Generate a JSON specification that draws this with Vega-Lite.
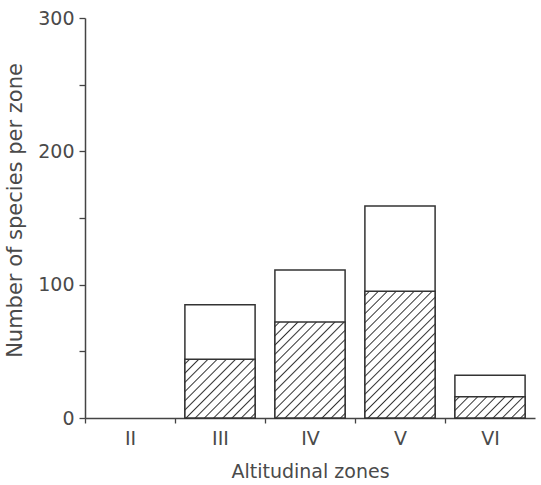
{
  "$schema": "https://vega.github.io/schema/vega-lite/v6.json",
  "autosize": {"type": "none"},
  "width": 450,
  "height": 400,
  "padding": {"left": 85, "top": 18, "right": 6, "bottom": 67},
  "background": "#ffffff",
  "data": {
    "values": [
      {"zone": "III", "total": 85, "hatched": 44},
      {"zone": "IV", "total": 111, "hatched": 72},
      {"zone": "V", "total": 159, "hatched": 95},
      {"zone": "VI", "total": 32, "hatched": 16}
    ]
  },
  "config": {
    "view": {"stroke": null},
    "axis": {
      "domainColor": "#444", "domainWidth": 1.5, "tickColor": "#444", "tickWidth": 1.3,
      "labelFont": "DejaVu Sans", "labelFontSize": 19, "labelColor": "#4a4a4a",
      "titleFont": "DejaVu Sans", "titleFontWeight": "normal", "titleColor": "#4a4a4a", "grid": false
    }
  },
  "encoding": {
    "x": {
      "field": "zone", "type": "nominal", "sort": ["II", "III", "IV", "V", "VI"],
      "scale": {"domain": ["II", "III", "IV", "V", "VI"], "paddingInner": 0.22, "paddingOuter": 0.11},
      "axis": {"title": "Altitudinal zones", "titleFontSize": 19, "titlePadding": 14, "labelAngle": 0, "bandPosition": 0, "tickOffset": -10, "labelOffset": 10, "tickSize": 5, "labelPadding": 6}
    }
  },
  "layer": [
    {
      "mark": {"type": "bar", "fill": "#ffffff", "stroke": "#333", "strokeWidth": 1.5},
      "encoding": {
        "y": {
          "field": "total", "type": "quantitative", "scale": {"domain": [0, 300]},
          "axis": {"title": "Number of species per zone", "titleFontSize": 21, "titleX": -60, "titleY": 192, "values": [0, 50, 100, 150, 200, 250, 300], "labelExpr": "datum.value % 100 === 0 ? datum.label : ''", "tickSize": 6, "labelPadding": 5}
        }
      }
    },
    {
      "mark": {"type": "bar", "stroke": "#333", "strokeWidth": 1.5},
      "encoding": {
        "y": {"field": "hatched", "type": "quantitative", "title": "Number of species per zone"},
        "fill": {
          "condition": [
            {"test": "datum.zone === 'III'", "value": {"gradient": "linear", "x1": 0, "y1": 0, "x2": 1.0806, "y2": 0.9036, "stops": [
              {"offset": 0.0247, "color": "#fff"}, {"offset": 0.0357, "color": "#333"}, {"offset": 0.0467, "color": "#fff"},
              {"offset": 0.0961, "color": "#fff"}, {"offset": 0.1071, "color": "#333"}, {"offset": 0.1181, "color": "#fff"},
              {"offset": 0.1676, "color": "#fff"}, {"offset": 0.1786, "color": "#333"}, {"offset": 0.1896, "color": "#fff"},
              {"offset": 0.239, "color": "#fff"}, {"offset": 0.25, "color": "#333"}, {"offset": 0.261, "color": "#fff"},
              {"offset": 0.3104, "color": "#fff"}, {"offset": 0.3214, "color": "#333"}, {"offset": 0.3324, "color": "#fff"},
              {"offset": 0.3819, "color": "#fff"}, {"offset": 0.3929, "color": "#333"}, {"offset": 0.4039, "color": "#fff"},
              {"offset": 0.4533, "color": "#fff"}, {"offset": 0.4643, "color": "#333"}, {"offset": 0.4753, "color": "#fff"},
              {"offset": 0.5247, "color": "#fff"}, {"offset": 0.5357, "color": "#333"}, {"offset": 0.5467, "color": "#fff"},
              {"offset": 0.5961, "color": "#fff"}, {"offset": 0.6071, "color": "#333"}, {"offset": 0.6181, "color": "#fff"},
              {"offset": 0.6676, "color": "#fff"}, {"offset": 0.6786, "color": "#333"}, {"offset": 0.6896, "color": "#fff"},
              {"offset": 0.739, "color": "#fff"}, {"offset": 0.75, "color": "#333"}, {"offset": 0.761, "color": "#fff"},
              {"offset": 0.8104, "color": "#fff"}, {"offset": 0.8214, "color": "#333"}, {"offset": 0.8324, "color": "#fff"},
              {"offset": 0.8819, "color": "#fff"}, {"offset": 0.8929, "color": "#333"}, {"offset": 0.9039, "color": "#fff"},
              {"offset": 0.9533, "color": "#fff"}, {"offset": 0.9643, "color": "#333"}, {"offset": 0.9753, "color": "#fff"}
            ]}},
            {"test": "datum.zone === 'IV'", "value": {"gradient": "linear", "x1": 0, "y1": 0, "x2": 0.8249, "y2": 1.1281, "stops": [
              {"offset": 0.0193, "color": "#fff"}, {"offset": 0.0278, "color": "#333"}, {"offset": 0.0363, "color": "#fff"},
              {"offset": 0.0748, "color": "#fff"}, {"offset": 0.0833, "color": "#333"}, {"offset": 0.0918, "color": "#fff"},
              {"offset": 0.1304, "color": "#fff"}, {"offset": 0.1389, "color": "#333"}, {"offset": 0.1474, "color": "#fff"},
              {"offset": 0.1859, "color": "#fff"}, {"offset": 0.1944, "color": "#333"}, {"offset": 0.2029, "color": "#fff"},
              {"offset": 0.2415, "color": "#fff"}, {"offset": 0.25, "color": "#333"}, {"offset": 0.2585, "color": "#fff"},
              {"offset": 0.2971, "color": "#fff"}, {"offset": 0.3056, "color": "#333"}, {"offset": 0.3141, "color": "#fff"},
              {"offset": 0.3526, "color": "#fff"}, {"offset": 0.3611, "color": "#333"}, {"offset": 0.3696, "color": "#fff"},
              {"offset": 0.4082, "color": "#fff"}, {"offset": 0.4167, "color": "#333"}, {"offset": 0.4252, "color": "#fff"},
              {"offset": 0.4637, "color": "#fff"}, {"offset": 0.4722, "color": "#333"}, {"offset": 0.4807, "color": "#fff"},
              {"offset": 0.5193, "color": "#fff"}, {"offset": 0.5278, "color": "#333"}, {"offset": 0.5363, "color": "#fff"},
              {"offset": 0.5748, "color": "#fff"}, {"offset": 0.5833, "color": "#333"}, {"offset": 0.5918, "color": "#fff"},
              {"offset": 0.6304, "color": "#fff"}, {"offset": 0.6389, "color": "#333"}, {"offset": 0.6474, "color": "#fff"},
              {"offset": 0.6859, "color": "#fff"}, {"offset": 0.6944, "color": "#333"}, {"offset": 0.7029, "color": "#fff"},
              {"offset": 0.7415, "color": "#fff"}, {"offset": 0.75, "color": "#333"}, {"offset": 0.7585, "color": "#fff"},
              {"offset": 0.7971, "color": "#fff"}, {"offset": 0.8056, "color": "#333"}, {"offset": 0.8141, "color": "#fff"},
              {"offset": 0.8526, "color": "#fff"}, {"offset": 0.8611, "color": "#333"}, {"offset": 0.8696, "color": "#fff"},
              {"offset": 0.9082, "color": "#fff"}, {"offset": 0.9167, "color": "#333"}, {"offset": 0.9252, "color": "#fff"},
              {"offset": 0.9637, "color": "#fff"}, {"offset": 0.9722, "color": "#333"}, {"offset": 0.9807, "color": "#fff"}
            ]}},
            {"test": "datum.zone === 'V'", "value": {"gradient": "linear", "x1": 0, "y1": 0, "x2": 0.6588, "y2": 1.1891, "stops": [
              {"offset": 0.0157, "color": "#fff"}, {"offset": 0.0227, "color": "#333"}, {"offset": 0.0297, "color": "#fff"},
              {"offset": 0.0612, "color": "#fff"}, {"offset": 0.0682, "color": "#333"}, {"offset": 0.0752, "color": "#fff"},
              {"offset": 0.1066, "color": "#fff"}, {"offset": 0.1136, "color": "#333"}, {"offset": 0.1206, "color": "#fff"},
              {"offset": 0.1521, "color": "#fff"}, {"offset": 0.1591, "color": "#333"}, {"offset": 0.1661, "color": "#fff"},
              {"offset": 0.1975, "color": "#fff"}, {"offset": 0.2045, "color": "#333"}, {"offset": 0.2115, "color": "#fff"},
              {"offset": 0.243, "color": "#fff"}, {"offset": 0.25, "color": "#333"}, {"offset": 0.257, "color": "#fff"},
              {"offset": 0.2885, "color": "#fff"}, {"offset": 0.2955, "color": "#333"}, {"offset": 0.3025, "color": "#fff"},
              {"offset": 0.3339, "color": "#fff"}, {"offset": 0.3409, "color": "#333"}, {"offset": 0.3479, "color": "#fff"},
              {"offset": 0.3794, "color": "#fff"}, {"offset": 0.3864, "color": "#333"}, {"offset": 0.3934, "color": "#fff"},
              {"offset": 0.4248, "color": "#fff"}, {"offset": 0.4318, "color": "#333"}, {"offset": 0.4388, "color": "#fff"},
              {"offset": 0.4703, "color": "#fff"}, {"offset": 0.4773, "color": "#333"}, {"offset": 0.4843, "color": "#fff"},
              {"offset": 0.5157, "color": "#fff"}, {"offset": 0.5227, "color": "#333"}, {"offset": 0.5297, "color": "#fff"},
              {"offset": 0.5612, "color": "#fff"}, {"offset": 0.5682, "color": "#333"}, {"offset": 0.5752, "color": "#fff"},
              {"offset": 0.6066, "color": "#fff"}, {"offset": 0.6136, "color": "#333"}, {"offset": 0.6206, "color": "#fff"},
              {"offset": 0.6521, "color": "#fff"}, {"offset": 0.6591, "color": "#333"}, {"offset": 0.6661, "color": "#fff"},
              {"offset": 0.6975, "color": "#fff"}, {"offset": 0.7045, "color": "#333"}, {"offset": 0.7115, "color": "#fff"},
              {"offset": 0.743, "color": "#fff"}, {"offset": 0.75, "color": "#333"}, {"offset": 0.757, "color": "#fff"},
              {"offset": 0.7885, "color": "#fff"}, {"offset": 0.7955, "color": "#333"}, {"offset": 0.8025, "color": "#fff"},
              {"offset": 0.8339, "color": "#fff"}, {"offset": 0.8409, "color": "#333"}, {"offset": 0.8479, "color": "#fff"},
              {"offset": 0.8794, "color": "#fff"}, {"offset": 0.8864, "color": "#333"}, {"offset": 0.8934, "color": "#fff"},
              {"offset": 0.9248, "color": "#fff"}, {"offset": 0.9318, "color": "#333"}, {"offset": 0.9388, "color": "#fff"},
              {"offset": 0.9703, "color": "#fff"}, {"offset": 0.9773, "color": "#333"}, {"offset": 0.9843, "color": "#fff"}
            ]}},
            {"test": "datum.zone === 'VI'", "value": {"gradient": "linear", "x1": 0, "y1": 0, "x2": 1.1935, "y2": 0.3621, "stops": [
              {"offset": 0.035, "color": "#fff"}, {"offset": 0.05, "color": "#333"}, {"offset": 0.065, "color": "#fff"},
              {"offset": 0.135, "color": "#fff"}, {"offset": 0.15, "color": "#333"}, {"offset": 0.165, "color": "#fff"},
              {"offset": 0.235, "color": "#fff"}, {"offset": 0.25, "color": "#333"}, {"offset": 0.265, "color": "#fff"},
              {"offset": 0.335, "color": "#fff"}, {"offset": 0.35, "color": "#333"}, {"offset": 0.365, "color": "#fff"},
              {"offset": 0.435, "color": "#fff"}, {"offset": 0.45, "color": "#333"}, {"offset": 0.465, "color": "#fff"},
              {"offset": 0.535, "color": "#fff"}, {"offset": 0.55, "color": "#333"}, {"offset": 0.565, "color": "#fff"},
              {"offset": 0.635, "color": "#fff"}, {"offset": 0.65, "color": "#333"}, {"offset": 0.665, "color": "#fff"},
              {"offset": 0.735, "color": "#fff"}, {"offset": 0.75, "color": "#333"}, {"offset": 0.765, "color": "#fff"},
              {"offset": 0.835, "color": "#fff"}, {"offset": 0.85, "color": "#333"}, {"offset": 0.865, "color": "#fff"},
              {"offset": 0.935, "color": "#fff"}, {"offset": 0.95, "color": "#333"}, {"offset": 0.965, "color": "#fff"}
            ]}}
          ],
          "value": "#ffffff"
        }
      }
    }
  ]
}
